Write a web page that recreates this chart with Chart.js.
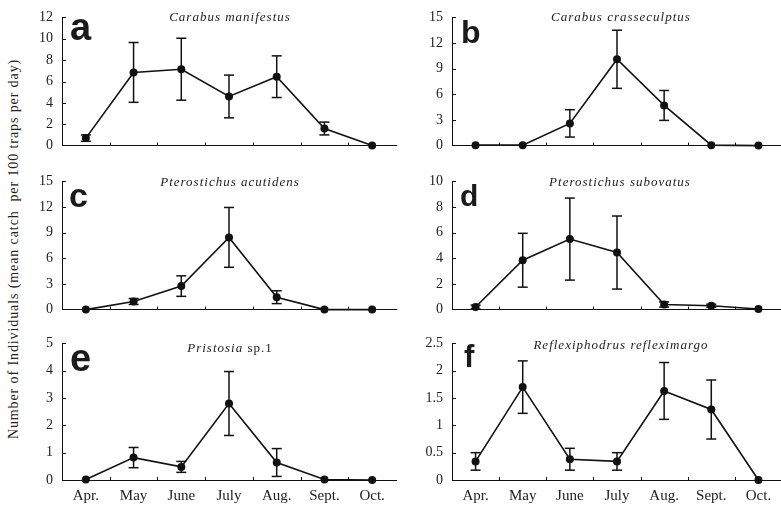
<!DOCTYPE html>
<html>
<head>
<meta charset="utf-8">
<script src="https://cdn.jsdelivr.net/npm/chart.js@4.4.0/dist/chart.umd.min.js"></script>
<style>
html, body { margin: 0; padding: 0; width: 781px; height: 506px; overflow: hidden; background: #fff; }
canvas { position: absolute; }
.title { position: absolute; font: italic 13px "Liberation Serif"; letter-spacing: 1px; transform: translate(-50%, -50%); white-space: nowrap; color: #222; }
.title span { font-style: normal; }
.letter { position: absolute; font-family: "Liberation Sans"; font-weight: bold; line-height: 1; color: #1a1a1a; }
#ylab { position: absolute; left: 14px; top: 249px; transform: translate(-50%, -50%) rotate(-90deg); font: 14px "Liberation Serif"; letter-spacing: 0.9px; white-space: pre; color: #222; }
</style>
</head>
<body>
<div id="ylab">Number of Individuals (mean catch  per 100 traps per day)</div>

<canvas id="pa" width="400" height="163" style="left:0;top:0"></canvas>
<canvas id="pb" width="396" height="163" style="left:390px;top:0"></canvas>
<canvas id="pc" width="400" height="163" style="left:0;top:164px"></canvas>
<canvas id="pd" width="396" height="163" style="left:390px;top:164px"></canvas>
<canvas id="pe" width="400" height="180" style="left:0;top:326px"></canvas>
<canvas id="pf" width="396" height="180" style="left:390px;top:326px"></canvas>

<div class="title" style="left:230px;top:17px">Carabus manifestus</div>
<div class="title" style="left:621px;top:17px">Carabus crasseculptus</div>
<div class="title" style="left:230px;top:182px">Pterostichus acutidens</div>
<div class="title" style="left:620px;top:182px">Pterostichus subovatus</div>
<div class="title" style="left:230px;top:348px">Pristosia<span> sp.1</span></div>
<div class="title" style="left:621px;top:345px">Reflexiphodrus refleximargo</div>

<div class="letter" style="left:70px;top:8px;font-size:38px">a</div>
<div class="letter" style="left:461px;top:16px;font-size:32px">b</div>
<div class="letter" style="left:69px;top:178px;font-size:34px">c</div>
<div class="letter" style="left:460px;top:181px;font-size:30px">d</div>
<div class="letter" style="left:70px;top:339px;font-size:38px">e</div>
<div class="letter" style="left:464px;top:341px;font-size:31px">f</div>

<script>
// months on the x axis
const months = ['Apr.', 'May', 'June', 'July', 'Aug.', 'Sept.', 'Oct.'];

// mean catch and error
const meanA = [0.7, 6.85, 7.15, 4.6, 6.45, 1.6, 0];
const errA  = [0.3, 2.8, 2.9, 2.0, 1.95, 0.6, 0];
const meanB = [0.05, 0.05, 2.6, 10.1, 4.7, 0.05, 0];
const errB  = [0, 0, 1.6, 3.4, 1.75, 0, 0];
const meanC = [0, 0.95, 2.75, 8.45, 1.45, 0, 0];
const errC  = [0, 0.35, 1.2, 3.5, 0.75, 0, 0];
const meanD = [0.2, 3.85, 5.5, 4.45, 0.4, 0.3, 0.05];
const errD  = [0.15, 2.1, 3.2, 2.85, 0.2, 0.12, 0];
const meanE = [0.02, 0.82, 0.48, 2.8, 0.64, 0.02, 0];
const errE  = [0, 0.37, 0.2, 1.17, 0.51, 0, 0];
const meanF = [0.34, 1.7, 0.38, 0.34, 1.63, 1.29, 0];
const errF  = [0.16, 0.48, 0.2, 0.16, 0.52, 0.54, 0];

// y axis ranges per panel
const yMax  = [12, 15, 15, 10, 5, 2.5];
const yStep = [2, 3, 3, 2, 1, 0.5];

// error bars + inward tick marks
const decor = {
    id: 'decor',
    afterDatasetsDraw(chart, args, opts) {
        const { ctx, scales: { x, y } } = chart;
        const data = chart.data.datasets[0].data;
        const line = (x1, y1, x2, y2) => { ctx.beginPath(); ctx.moveTo(x1, y1); ctx.lineTo(x2, y2); ctx.stroke(); };
        ctx.save();
        ctx.strokeStyle = '#111';
        ctx.lineWidth = 1.5;
        data.forEach((m, i) => {
            const e = opts.err[i];
            if (!e) return;
            const px = x.getPixelForValue(i);
            const top = y.getPixelForValue(m + e);
            const bot = y.getPixelForValue(Math.max(0, m - e));
            line(px, top, px, bot);
            line(px - 5, top, px + 5, top);
            line(px - 5, bot, px + 5, bot);
        });
        ctx.lineWidth = 1;
        y.ticks.forEach(t => {
            if (t.value === 0) return;
            const py = Math.round(y.getPixelForValue(t.value)) + 0.5;
            line(y.right, py, y.right + 4, py);
        });
        for (let i = 0; i < data.length - 1; i++) {
            const px = Math.round((x.getPixelForValue(i) + x.getPixelForValue(i + 1)) / 2) + 0.5;
            line(px, x.top, px, x.top - 3);
        }
        ctx.restore();
    }
};

function makePanel(id, mean, err, idx, rightPad, showX) {
    new Chart(document.getElementById(id), {
        type: 'line',
        data: {
            labels: months,
            datasets: [{
                data: mean,
                borderColor: '#111',
                borderWidth: 1.6,
                pointRadius: 4,
                pointBackgroundColor: '#111',
                pointBorderWidth: 0,
                tension: 0,
                clip: false
            }]
        },
        options: {
            responsive: false,
            animation: false,
            devicePixelRatio: 1,
            layout: { padding: { top: 15, right: rightPad, left: 0, bottom: 0 } },
            plugins: { legend: { display: false }, tooltip: { enabled: false }, decor: { err: err } },
            scales: {
                x: {
                    type: 'category',
                    offset: true,
                    grid: { display: false, drawTicks: false },
                    border: { display: true, color: '#111', width: 1 },
                    ticks: { display: showX, color: '#222', padding: 7, font: { family: 'Liberation Serif', size: 15 } },
                    afterFit: s => { s.height = showX ? 26 : 10; }
                },
                y: {
                    min: 0,
                    max: yMax[idx],
                    grid: { display: false, drawTicks: false },
                    border: { display: true, color: '#111', width: 1 },
                    ticks: {
                        stepSize: yStep[idx], color: '#222', padding: 9,
                        font: { family: 'Liberation Serif', size: 14 },
                        callback: v => String(v)
                    },
                    afterFit: s => { s.width = 62; }
                }
            }
        },
        plugins: [decor]
    });
}

makePanel('pa', meanA, errA, 0, 4, false);
makePanel('pb', meanB, errB, 1, 0, false);
makePanel('pc', meanC, errC, 2, 4, false);
makePanel('pd', meanD, errD, 3, 0, false);
makePanel('pe', meanE, errE, 4, 4, true);
makePanel('pf', meanF, errF, 5, 0, true);
</script>
</body>
</html>
